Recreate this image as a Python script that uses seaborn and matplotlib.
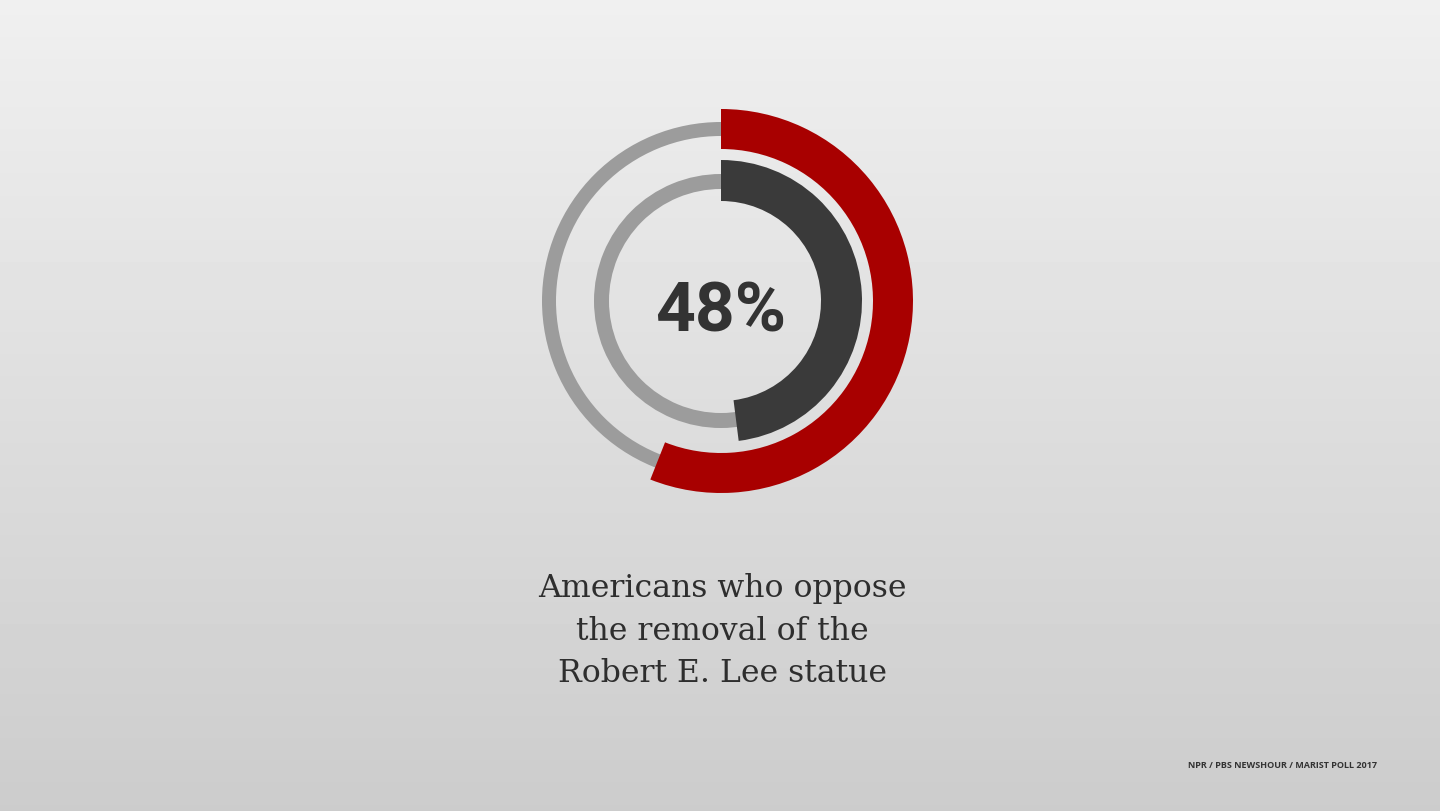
import numpy as np
import pandas as pd
import matplotlib
matplotlib.use("Agg")
import matplotlib.pyplot as plt
import seaborn as sns

# ---------------- data ----------------
ring_names = ["outer", "inner"]
ring_values = [56, 48]            # percent of full circle filled
center_label = "48%"
caption_lines = ["Americans who oppose", "the removal of the", "Robert E. Lee statue"]
source_text = "NPR / PBS NEWSHOUR / MARIST POLL 2017"

# ---------------- style ----------------
sns.set_theme(style="white")
plt.rcParams["font.family"] = ["DejaVu Sans"]

W, H = 1440, 812
fig = plt.figure(figsize=(W / 100, H / 100), dpi=100)

# background: soft vertical light-grey gradient
bg = fig.add_axes([0, 0, 1, 1])
grad = np.linspace(0.94, 0.80, 256).reshape(-1, 1)
bg.imshow(grad, aspect="auto", cmap="gray", vmin=0, vmax=1, extent=[0, 1, 0, 1])
bg.set_axis_off()

# ring geometry (pixels)
cx, cy = 721, 302
R = 200
rings = pd.DataFrame({
    "name": ring_names,
    "value": ring_values,
    "arc_inner": [152, 100],
    "arc_thick": [40, 41],
    "track_inner": [165, 112],
    "track_thick": [14, 15],
    "color": ["#a80000", "#3a3a3a"],
})
track_color = "#9c9c9c"

ax = fig.add_axes([(cx - R) / W, (H - cy - R) / H, 2 * R / W, 2 * R / H], projection="polar")
ax.set_theta_zero_location("N")
ax.set_theta_direction(-1)
ax.set_ylim(0, R)
ax.patch.set_alpha(0)

for _, row in rings.iterrows():
    ax.bar(np.pi, row["track_thick"], width=2 * np.pi, bottom=row["track_inner"],
           color=track_color, linewidth=0, align="center")
    theta = row["value"] / 100 * 2 * np.pi
    ax.bar(theta / 2, row["arc_thick"], width=theta, bottom=row["arc_inner"],
           color=row["color"], linewidth=0, align="center")
ax.set_axis_off()

# center number
fig.text(cx / W, 1 - 332 / H, center_label, ha="center", va="baseline",
         fontsize=50, fontweight="bold", family="Roboto", color="#333333")

# caption
for line, base in zip(caption_lines, [597, 640, 682]):
    fig.text(722 / W, 1 - base / H, line, ha="center", va="baseline",
             fontsize=22.7, family="DejaVu Serif", color="#2e2e2e")

# source
fig.text(1377 / W, 1 - 768 / H, source_text, ha="right", va="baseline",
         fontsize=6.5, fontweight="bold", family="Open Sans", color="#333333")

fig.savefig("out.png", dpi=100)
